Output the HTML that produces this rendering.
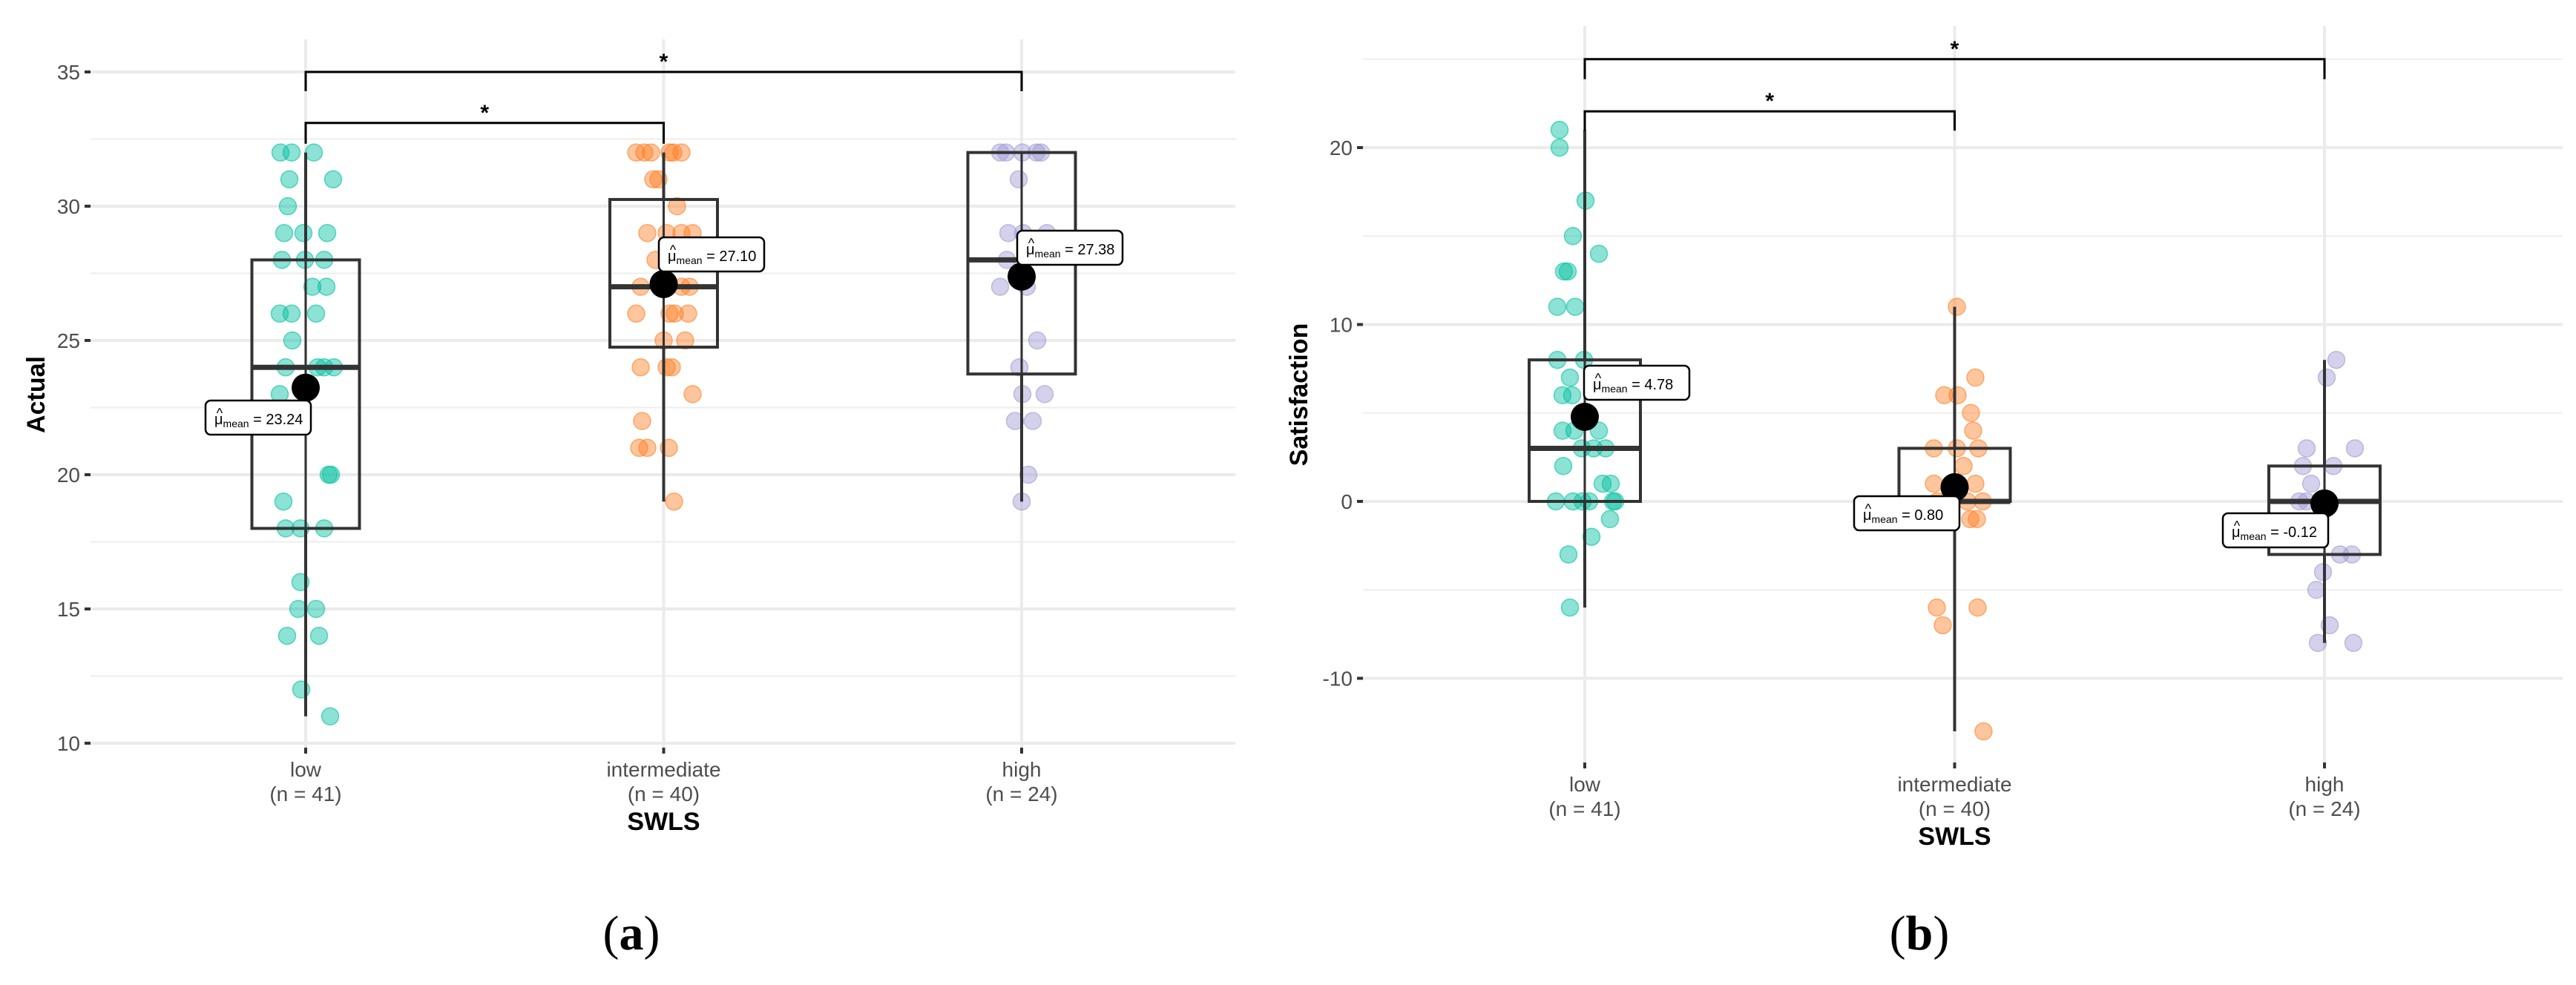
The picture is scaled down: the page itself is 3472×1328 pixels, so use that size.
<!DOCTYPE html>
<html><head><meta charset="utf-8"><style>
html,body{margin:0;padding:0;background:#fff;}
svg{display:block;font-family:"Liberation Sans",Arial,sans-serif;}
</style></head><body>
<svg id="fig" width="3472" height="1328" viewBox="0 0 3472 1328" xmlns="http://www.w3.org/2000/svg"></svg>
<script>
// ---- data ----
const categories = ["low", "intermediate", "high"];
const counts = [41, 40, 24];
// Panel (a) Actual
const actualLow = [32,32,32,31,31,30,29,29,29,28,28,28,27,27,26,26,26,25,24,24,24,24,23,20,20,19,18,18,18,16,15,15,14,14,12,11];
const actualLowJit = [-34,-19,11,-22,37,-24,-29,-3,29,-32,-1,25,9,28,-35,-19,14,-18,-27,16,25,38,-35,31,34,-30,-27,-7,25,-7,-10,14,-25,18,-6,33];
const actualInt = [32,32,32,32,32,32,31,31,30,29,29,29,29,28,27,27,27,26,26,26,26,25,25,24,24,24,23,22,21,21,21,19];
const actualIntJit = [-37,-26,-17,8,13,24,-14,-7,18,-22,4,24,39,-11,-31,24,35,-37,8,15,33,0,29,-31,4,11,39,-29,-33,-22,7,14];
const actualHigh = [32,32,32,32,32,31,29,29,29,28,27,27,25,24,23,23,22,22,20,19];
const actualHighJit = [-29,-21,1,20,26,-4,-18,2,34,-20,-29,7,21,-3,1,31,-9,15,9,0];
const actualStats = [ // [ymin, q1, median, q3, ymax, mean]
  [11, 18, 24, 28, 32, 23.24],
  [19, 24.75, 27, 30.25, 32, 27.10],
  [19, 23.75, 28, 32, 32, 27.38]
];
const actualMeanLabels = ["23.24", "27.10", "27.38"];
const actualTicks = [10, 15, 20, 25, 30, 35];
// Panel (b) Satisfaction
const satLow = [21,20,17,15,14,13,13,11,11,8,8,7,6,6,4,4,4,3,3,3,2,1,1,0,0,0,0,0,0,-1,-2,-3,-6];
const satLowJit = [-34,-34,1,-16,19,-28,-23,-37,-13,-37,-1,-20,-30,-17,-30,-14,19,-4,12,28,-29,24,35,-39,-16,-3,6,38,41,34,9,-22,-20];
const satInt = [11,7,6,6,5,4,3,3,3,2,1,1,0,0,0,-1,-1,-6,-6,-7,-13];
const satIntJit = [3,28,-14,4,22,25,-28,3,32,12,-28,28,17,38,-23,21,30,-24,31,-16,39];
const satHigh = [8,7,3,3,2,2,1,0,0,-3,-3,-4,-5,-7,-8,-8];
const satHighJit = [16,3,-24,41,-29,12,-18,-34,-24,21,37,-2,-11,7,-9,39];
const satStats = [
  [-6, 0, 3, 8, 21, 4.78],
  [-13, 0, 0, 3, 11, 0.80],
  [-8, -3, 0, 2, 8, -0.12]
];
const satMeanLabels = ["4.78", "0.80", "-0.12"];
const satTicks = [-10, 0, 10, 20];

// ---- drawing ----
const NS = "http://www.w3.org/2000/svg";
const svg = document.getElementById('fig');
function mk(tag, attrs, parent, name) {
  const e = document.createElementNS(NS, tag);
  for (const k in attrs) e.setAttribute(k, attrs[k]);
  
  
  (parent || svg).appendChild(e);
  return e;
}
const fills = ["#00BFA0", "#FF7F24", "#9E9AD2"];

function panel(cfg) {
  const g = mk('g', {}, svg, cfg.name);
  const y = v => cfg.y0 - (v - cfg.v0) * cfg.ppu;
  const x = i => cfg.xs[0] + i * cfg.dx;
  for (let t = cfg.vmin; t <= cfg.vmax + 1e-9; t += cfg.minorStep) {
    if (cfg.ticks.indexOf(t) >= 0) continue;
    mk('line', {x1: cfg.left, x2: cfg.right, y1: y(t), y2: y(t), stroke: '#EEEEEE', 'stroke-width': 2}, g, 'minor-gridline');
  }
  cfg.ticks.forEach(t => {
    mk('line', {x1: cfg.left, x2: cfg.right, y1: y(t), y2: y(t), stroke: '#EBEBEB', 'stroke-width': 4}, g, 'major-gridline');
  });
  categories.forEach((c, i) => {
    mk('line', {x1: x(i), x2: x(i), y1: cfg.top, y2: cfg.bottom, stroke: '#EBEBEB', 'stroke-width': 4}, g, 'vertical-gridline');
  });
  cfg.ticks.forEach(t => {
    mk('line', {x1: cfg.left - 8, x2: cfg.left, y1: y(t), y2: y(t), stroke: '#333', 'stroke-width': 4}, g, 'y-tick');
    const tx = mk('text', {x: cfg.left - 14, y: y(t) + 10, 'text-anchor': 'end', 'font-size': 28, fill: '#4D4D4D'}, g, 'y-tick-label');
    tx.textContent = t;
  });
  categories.forEach((c, i) => {
    mk('line', {x1: x(i), x2: x(i), y1: cfg.bottom, y2: cfg.bottom + 8, stroke: '#333', 'stroke-width': 4}, g, 'x-tick');
    const t1 = mk('text', {x: x(i), y: cfg.bottom + 39, 'text-anchor': 'middle', 'font-size': 28, fill: '#4D4D4D'}, g, 'x-tick-label');
    t1.textContent = c;
    const t2 = mk('text', {x: x(i), y: cfg.bottom + 72, 'text-anchor': 'middle', 'font-size': 28, fill: '#4D4D4D'}, g, 'x-tick-count');
    t2.textContent = '(n = ' + counts[i] + ')';
  });
  cfg.points.forEach((pts, i) => {
    pts.vals.forEach((v, k) => {
      mk('circle', {cx: x(i) + pts.jit[k], cy: y(v), r: 11.5, fill: fills[i], 'fill-opacity': 0.45, stroke: fills[i], 'stroke-opacity': 0.6, 'stroke-width': 1.5}, g, 'data-point-' + categories[i]);
    });
  });
  cfg.stats.forEach((s, i) => {
    const cx = x(i), hw = cfg.hw;
    mk('line', {x1: cx, x2: cx, y1: y(s[0]), y2: y(s[1]), stroke: '#333', 'stroke-width': 4}, g, 'whisker-lower');
    mk('line', {x1: cx, x2: cx, y1: y(s[3]), y2: y(s[4]), stroke: '#333', 'stroke-width': 4}, g, 'whisker-upper');
    mk('line', {x1: cx, x2: cx, y1: y(s[3]), y2: y(s[1]), stroke: '#333', 'stroke-width': 3}, g, 'whisker-inner');
    mk('rect', {x: cx - hw, y: y(s[3]), width: 2 * hw, height: y(s[1]) - y(s[3]), fill: 'none', stroke: '#333', 'stroke-width': 4}, g, 'box-' + categories[i]);
    mk('line', {x1: cx - hw, x2: cx + hw, y1: y(s[2]), y2: y(s[2]), stroke: '#333', 'stroke-width': 7}, g, 'median-line');
    mk('circle', {cx: cx, cy: y(s[5]), r: 19, fill: '#000'}, g, 'mean-point-' + categories[i]);
    const lb = cfg.labelPos[i];
    const lg = mk('g', {}, g, 'mean-label-' + categories[i]);
    mk('rect', {x: lb[0], y: lb[1], width: 142, height: 46, rx: 7, fill: '#fff', stroke: '#000', 'stroke-width': 2.5}, lg, 'mean-label-box');
    const hat = mk('text', {x: lb[0] + 19, y: lb[1] + 23, 'font-size': 18, 'text-anchor': 'middle', fill: '#000'}, lg, 'mean-label-hat');
    hat.textContent = '^';
    const tx = mk('text', {x: lb[0] + 12, y: lb[1] + 32, 'font-size': 20, fill: '#000'}, lg, 'mean-label-text');
    const t1 = document.createElementNS(NS, 'tspan'); t1.textContent = 'μ'; tx.appendChild(t1);
    const t2 = document.createElementNS(NS, 'tspan'); t2.setAttribute('font-size', 14); t2.setAttribute('dy', 4); t2.textContent = 'mean'; tx.appendChild(t2);
    const t3 = document.createElementNS(NS, 'tspan'); t3.setAttribute('dy', -4); t3.textContent = ' = ' + cfg.meanLabels[i]; tx.appendChild(t3);
  });
  cfg.brackets.forEach(b => {
    const bg = mk('g', {}, g, 'significance-bracket');
    const x1 = x(b.from), x2 = x(b.to), yy = y(b.v);
    mk('path', {d: `M${x1},${yy + b.drop} V${yy} H${x2} V${yy + b.drop}`, fill: 'none', stroke: '#000', 'stroke-width': 3}, bg, 'bracket-line');
    const st = mk('text', {x: (x1 + x2) / 2, y: yy - 4, 'text-anchor': 'middle', 'font-size': 30, 'font-weight': 'bold', fill: '#000'}, bg, 'significance-star');
    st.textContent = '*';
  });
  const yt = mk('text', {x: cfg.ytX, y: cfg.ytY, 'text-anchor': 'middle', 'font-size': 34, 'font-weight': 'bold', fill: '#000', transform: `rotate(-90 ${cfg.ytX} ${cfg.ytY})`}, g, 'y-axis-title');
  yt.textContent = cfg.ytitle;
  const xt = mk('text', {x: x(1), y: cfg.bottom + 111, 'text-anchor': 'middle', 'font-size': 34, 'font-weight': 'bold', fill: '#000'}, g, 'x-axis-title');
  xt.textContent = 'SWLS';
  const pl = mk('text', {x: cfg.tagX, y: 1280, 'text-anchor': 'middle', 'font-size': 66, 'font-family': '"Liberation Serif",serif', fill: '#000'}, g, 'panel-tag');
  const p1 = document.createElementNS(NS, 'tspan'); p1.textContent = '('; pl.appendChild(p1);
  const p2 = document.createElementNS(NS, 'tspan'); p2.setAttribute('font-weight', 'bold'); p2.textContent = cfg.tag; pl.appendChild(p2);
  const p3 = document.createElementNS(NS, 'tspan'); p3.textContent = ')'; pl.appendChild(p3);
}

panel({
  name: 'panel-a-actual', left: 122, right: 1665, top: 53, bottom: 1008,
  xs: [412], dx: 482.5, y0: 1002, v0: 10, ppu: 36.2, vmin: 10, vmax: 35, minorStep: 2.5,
  ticks: actualTicks, hw: 72.5,
  points: [{vals: actualLow, jit: actualLowJit}, {vals: actualInt, jit: actualIntJit}, {vals: actualHigh, jit: actualHighJit}],
  stats: actualStats, meanLabels: actualMeanLabels,
  labelPos: [[277, 540], [888, 320], [1371, 311]],
  brackets: [{from: 0, to: 2, v: 35, drop: 26}, {from: 0, to: 1, v: 33.1, drop: 28}],
  ytitle: 'Actual', ytX: 60, ytY: 532, tag: 'a', tagX: 851
});
panel({
  name: 'panel-b-satisfaction', left: 1837, right: 3454, top: 35, bottom: 1028,
  xs: [2136], dx: 498.5, y0: 676, v0: 0, ppu: 23.85, vmin: -5, vmax: 25, minorStep: 5,
  ticks: satTicks, hw: 75,
  points: [{vals: satLow, jit: satLowJit}, {vals: satInt, jit: satIntJit}, {vals: satHigh, jit: satHighJit}],
  stats: satStats, meanLabels: satMeanLabels,
  labelPos: [[2135, 493], [2499, 669], [2996, 692]],
  brackets: [{from: 0, to: 2, v: 25, drop: 27}, {from: 0, to: 1, v: 22.05, drop: 26}],
  ytitle: 'Satisfaction', ytX: 1762, ytY: 532, tag: 'b', tagX: 2587
});
</script>
</body></html>
